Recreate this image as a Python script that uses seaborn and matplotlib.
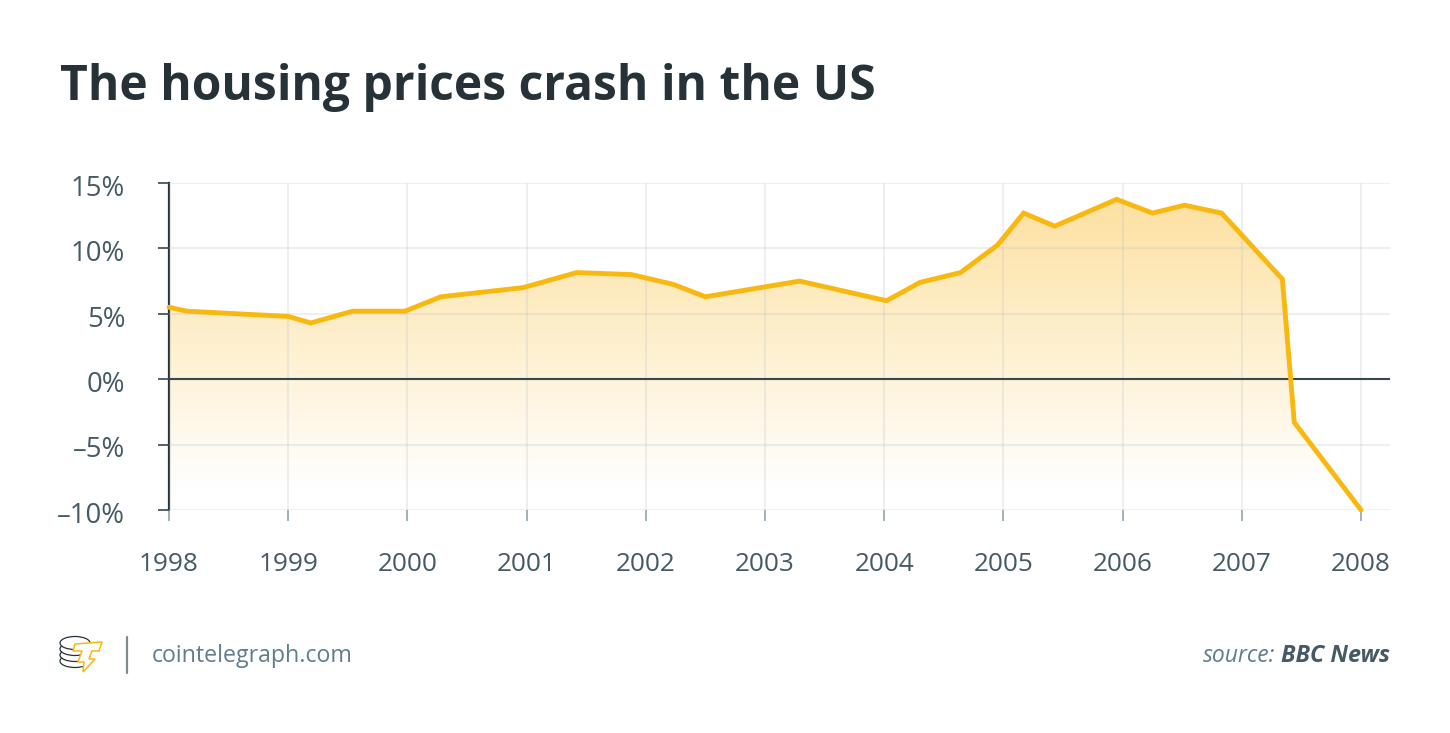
import numpy as np
import pandas as pd
import matplotlib
matplotlib.use("Agg")
import matplotlib.pyplot as plt
import seaborn as sns
from matplotlib.colors import LinearSegmentedColormap
from matplotlib.patches import Ellipse, Polygon
from matplotlib.transforms import ScaledTranslation

# values
years = [1998.0, 1998.15, 1999.0, 1999.19, 1999.54, 1999.98, 2000.28, 2000.97,
         2001.42, 2001.88, 2002.23, 2002.5, 2003.29, 2004.02, 2004.3, 2004.64,
         2004.95, 2005.17, 2005.43, 2005.95, 2006.25, 2006.52, 2006.83,
         2007.34, 2007.44, 2008.0]
change = [5.5, 5.2, 4.8, 4.3, 5.2, 5.2, 6.3, 7.0, 8.15, 8.0, 7.25, 6.3, 7.5,
          6.0, 7.4, 8.15, 10.25, 12.7, 11.7, 13.75, 12.7, 13.3, 12.7, 7.65,
          -3.3, -10.0]
x_ticks = list(range(1998, 2009))
y_ticks = [-10, -5, 0, 5, 10, 15]
y_labels = ["–10%", "–5%", "0%", "5%", "10%", "15%"]

W, H = 1450, 733
DARK = "#263238"
TEXT = "#455a64"
YELLOW = "#f9b80f"

sns.set_theme(style="white")
plt.rcParams["font.family"] = ["Open Sans", "DejaVu Sans"]

df = pd.DataFrame({"year": years, "change": change})

fig = plt.figure(figsize=(W / 100, H / 100), dpi=100, facecolor="white")
ax = fig.add_axes([169 / W, 1 - 510 / H, (1390 - 169) / W, (510 - 183) / H])

# gradient under the line, clipped to the area shape
area = ax.fill_between(df["year"], df["change"], -10, color="none", lw=0)
cmap = LinearSegmentedColormap.from_list("fade", ["#fde0a0", "#fef0cf", "#ffffff"])
grad = ax.imshow(np.linspace(0, 1, 256).reshape(-1, 1), cmap=cmap, aspect="auto",
                 extent=[1998, 2008.243, -8.5, 14], origin="upper", zorder=1)
grad.set_clip_path(area.get_paths()[0], ax.transData)

sns.lineplot(data=df, x="year", y="change", ax=ax, color=YELLOW, lw=3.5,
             estimator=None, sort=False, zorder=4, clip_on=False)
ax.lines[-1].set_solid_joinstyle("miter")

ax.axhline(0, color="#37474f", lw=1.5, zorder=3)

ax.set_xlim(1998, 2008.243)
ax.set_ylim(-10, 15)
ax.set_xticks(x_ticks)
ax.set_yticks(y_ticks)
ax.set_yticklabels(y_labels)
ax.set_xlabel("")
ax.set_ylabel("")
ax.grid(True, color="#b0bec5", alpha=0.22, lw=1.5, zorder=2)
ax.set_axisbelow(False)
for line in ax.get_xgridlines() + ax.get_ygridlines():
    line.set_zorder(2)

sns.despine(ax=ax, top=True, right=True, bottom=True)
ax.spines["left"].set_color(DARK)
ax.spines["left"].set_linewidth(1.6)
ax.tick_params(axis="y", length=8, width=1.2, color="#37474f", labelsize=19.8,
               labelcolor=TEXT, pad=23.5, left=True)
ax.tick_params(axis="x", length=8, width=1.2, color="#90a4ae", labelsize=18.8,
               labelcolor=TEXT, pad=22, bottom=True)
down = ScaledTranslation(0, -1.6 / 72, fig.dpi_scale_trans)
for label in ax.get_yticklabels():
    label.set_transform(label.get_transform() + down)

fig.text(60 / W, 1 - 88 / H, "The housing prices crash in the US", fontsize=34.6,
         fontweight="bold", color=DARK, va="center", ha="left")

# footer
fig.text(152 / W, 1 - 656 / H, "cointelegraph.com", fontsize=16.7, color="#607d8b",
         va="center", ha="left")
src = fig.text(1390 / W, 1 - 656 / H, "BBC News", fontsize=16.8, color=TEXT,
               fontweight="bold", fontstyle="italic", va="center", ha="right")
fig.canvas.draw()
src_box = src.get_window_extent()
fig.text((src_box.x0 - 6) / W, 1 - 656 / H, "source:", fontsize=16.5, color="#607d8b",
         fontstyle="italic", va="center", ha="right")

# logo and divider, in pixel coordinates
deco = fig.add_axes([0, 0, 1, 1], facecolor="none", zorder=-1)
deco.set_xlim(0, W)
deco.set_ylim(H, 0)
deco.axis("off")
deco.plot([127, 127], [637, 673], color="#808a8f", lw=1.6)
for cy in [661, 655, 649, 643]:
    deco.add_patch(Ellipse((75, cy), 30, 13, fc="white", ec=DARK, lw=0.9))
bolt = [(75, 644), (102, 642), (99, 651), (92, 651), (89, 659), (95, 659),
        (83, 672), (84, 662), (78, 662), (82, 651), (73, 651)]
deco.add_patch(Polygon(bolt, closed=True, fc="white", ec=YELLOW, lw=1.1, zorder=3))

fig.savefig("out.png", dpi=100, facecolor="white")
